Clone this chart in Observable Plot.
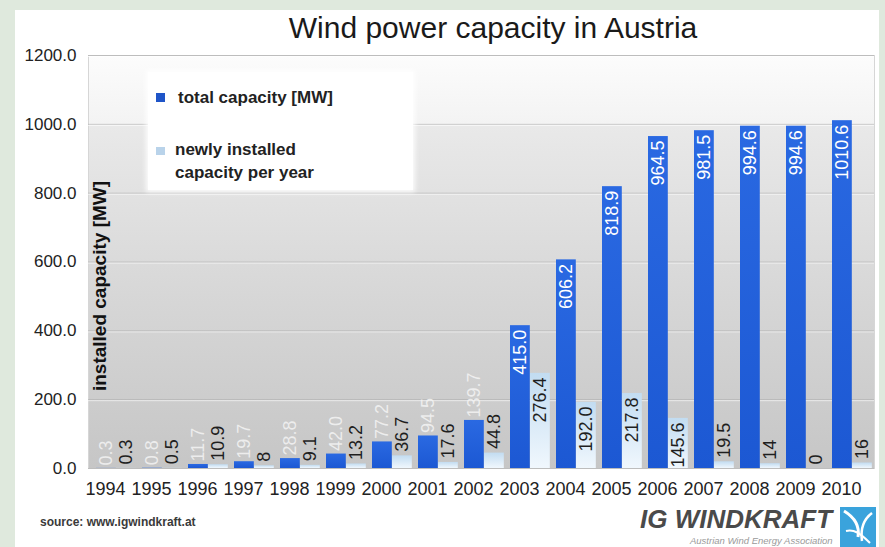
<!DOCTYPE html>
<html>
<head>
<meta charset="utf-8">
<script src="https://cdn.jsdelivr.net/npm/d3@7"></script>
<script src="https://cdn.jsdelivr.net/npm/@observablehq/plot@0.6"></script>
<style>
  body { margin: 0; background: #dfe9dd; font-family: 'Liberation Sans', Arial, sans-serif; }
  #wrap { position: relative; width: 885px; height: 547px; overflow: hidden; background: #dfe9dd; }
  #panel { position: absolute; left: 15px; top: 10px; width: 864px; height: 537px; background: #fff; }
  #title { position: absolute; left: 193px; top: 11px; width: 600px; text-align: center; font-size: 30px; color: #1a1a1a; line-height: 34px; }
  #chart { position: absolute; left: 0; top: 0; }
  #legend { position: absolute; left: 148px; top: 72px; width: 265px; height: 118px; background: #fff; box-shadow: 0 0 5px 2px rgba(255,255,255,0.9); }
  .sw { position: absolute; width: 9px; height: 9px; }
  .lt { position: absolute; font-size: 17px; font-weight: bold; color: #222; line-height: 23px; white-space: nowrap; }
  #source { position: absolute; left: 40px; top: 515px; font-size: 12px; font-weight: bold; color: #3a3a3a; }
  #logo1 { position: absolute; left: 640px; top: 504px; font-size: 26px; font-weight: bold; font-style: italic; color: #4a4a4a; white-space: nowrap; }
  #logo2 { position: absolute; left: 690px; top: 535px; font-size: 9.5px; font-style: italic; color: #9a9a9a; white-space: nowrap; }
  #logo3 { position: absolute; left: 840px; top: 507px; width: 36px; height: 40px; background: #3aa3dc; }
</style>
</head>
<body>
<div id="wrap">
  <div id="panel"></div>
  <div id="title">Wind power capacity in Austria</div>
  <div id="chart"></div>
  <div id="legend">
    <div class="sw" style="left:8px;top:21px;background:#1f55c8"></div>
    <div class="lt" style="left:30px;top:14px">total capacity [MW]</div>
    <div class="sw" style="left:8px;top:75px;height:8px;background:#b9d3ea"></div>
    <div class="lt" style="left:27px;top:66px">newly installed<br>capacity per year</div>
  </div>
  <div id="source">source: www.igwindkraft.at</div>
  <div id="logo1">IG WINDKRAFT</div>
  <div id="logo2">Austrian Wind Energy Association</div>
  <div id="logo3">
    <svg width="36" height="40" viewBox="0 0 36 40">
      <path d="M4 4 C14 10 20 18 18 30" stroke="#fff" stroke-width="3" fill="none"/>
      <path d="M32 6 C24 12 20 20 22 34" stroke="#fff" stroke-width="2.5" fill="none"/>
      <path d="M6 24 C14 22 20 26 30 36" stroke="#fff" stroke-width="2" fill="none"/>
    </svg>
  </div>
</div>
<script>
const years = ["1994","1995","1996","1997","1998","1999","2000","2001","2002","2003","2004","2005","2006","2007","2008","2009","2010"];
const totalCapacity = [0.3, 0.8, 11.7, 19.7, 28.8, 42.0, 77.2, 94.5, 139.7, 415.0, 606.2, 818.9, 964.5, 981.5, 994.6, 994.6, 1010.6];
const newCapacity = [0.3, 0.5, 10.9, 8, 9.1, 13.2, 36.7, 17.6, 44.8, 276.4, 192.0, 217.8, 145.6, 19.5, 14, 0, 16];
const totalLabels = ["0.3","0.8","11.7","19.7","28.8","42.0","77.2","94.5","139.7","415.0","606.2","818.9","964.5","981.5","994.6","994.6","1010.6"];
const newLabels = ["0.3","0.5","10.9","8","9.1","13.2","36.7","17.6","44.8","276.4","192.0","217.8","145.6","19.5","14","0","16"];
const yTicks = [0, 200, 400, 600, 800, 1000, 1200];
const yTitle = "installed capacity [MW]";

const data = years.map((year, i) => ({
  year, total: totalCapacity[i], added: newCapacity[i],
  totalLabel: totalLabels[i], newLabel: newLabels[i]
}));

const font = "'Liberation Sans', Arial, sans-serif";
const chart = Plot.plot({
  width: 885, height: 547,
  marginTop: 55, marginBottom: 79, marginLeft: 88, marginRight: 11,
  style: {background: "transparent", fontFamily: font, color: "#222"},
  x: {type: "band", domain: years, padding: 0, label: null},
  y: {domain: [0, 1200], label: null},
  marks: [
    Plot.frame({fill: "url(#bgGrad)", stroke: "#d6d6d6"}),
    Plot.gridY(yTicks, {stroke: "#ffffff", strokeOpacity: 0.7, dy: 1}),
    Plot.gridY(yTicks, {stroke: "#a0a0a0", strokeOpacity: 0.45}),
    Plot.barY(data, {x: "year", y: "total", fill: "url(#totalGrad)", insetLeft: 6, insetRight: 20.2}),
    Plot.barY(data, {x: "year", y: "added", fill: "url(#newGrad)", insetLeft: 26, insetRight: 0.2}),
    Plot.text(data, {filter: d => d.total > 200, x: "year", y: "total", text: "totalLabel", rotate: -90,
      textAnchor: "end", lineAnchor: "middle", dx: -7.1, dy: 4, fill: "#fff", fontSize: 18}),
    Plot.text(data, {filter: d => d.total <= 200, x: "year", y: "total", text: "totalLabel", rotate: -90,
      textAnchor: "start", lineAnchor: "middle", dx: -7.1, dy: -3, fill: "#f4f4f4", fillOpacity: 0.85, fontSize: 18}),
    Plot.text(data, {filter: d => d.added > 100, x: "year", y: "added", text: "newLabel", rotate: -90,
      textAnchor: "end", lineAnchor: "middle", dx: 12.9, dy: 4, fill: "#1e1e1e", fontSize: 18}),
    Plot.text(data, {filter: d => d.added <= 100, x: "year", y: "added", text: "newLabel", rotate: -90,
      textAnchor: "start", lineAnchor: "middle", dx: 12.9, dy: -4, fill: "#1e1e1e", fontSize: 18}),
    Plot.axisY(yTicks, {tickFormat: d => d.toFixed(1), tickSize: 0, tickPadding: 12, fontSize: 17, label: null}),
    Plot.axisX({tickSize: 0, tickPadding: 14, fontSize: 18, dx: -8, label: null}),
    Plot.text([yTitle], {frameAnchor: "left", dx: 11, dy: 24, rotate: -90, textAnchor: "middle",
      lineAnchor: "middle", fontWeight: "bold", fontSize: 19, fill: "#111"})
  ]
});

const svg = d3.select(chart);
const defs = svg.insert("defs", ":first-child");
function grad(id, stops) {
  const g = defs.append("linearGradient").attr("id", id).attr("x1", 0).attr("y1", 0).attr("x2", 0).attr("y2", 1);
  stops.forEach(([o, c]) => g.append("stop").attr("offset", o).attr("stop-color", c));
}
grad("bgGrad", [[0, "#fcfcfc"], [0.165, "#f3f3f3"], [0.17, "#e9e9e9"], [0.6, "#d6d6d6"], [1, "#c6c6c6"]]);
grad("totalGrad", [[0, "#2a69e2"], [1, "#1c58d3"]]);
grad("newGrad", [[0, "#c2dcf1"], [1, "#f0f7fd"]]);

document.getElementById("chart").appendChild(chart);
</script>
</body>
</html>
